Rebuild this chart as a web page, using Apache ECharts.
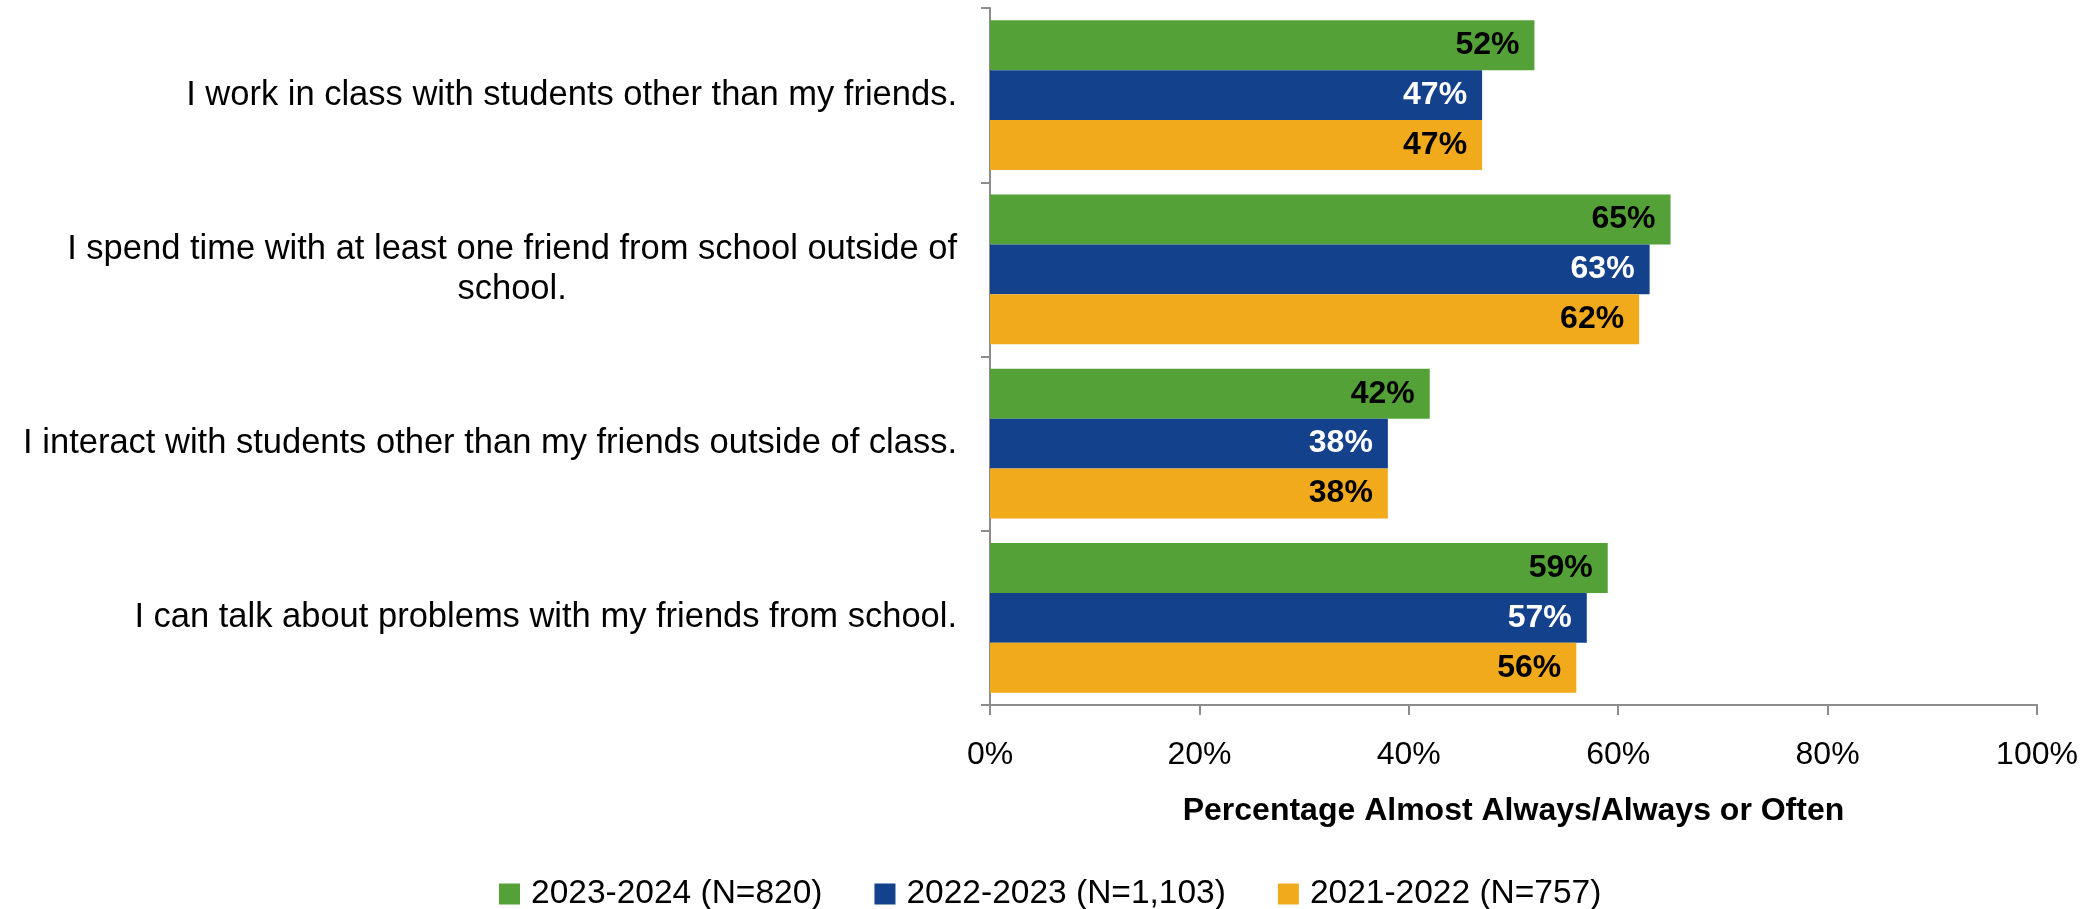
<!DOCTYPE html>
<html>
<head>
<meta charset="utf-8">
<script src="https://cdn.jsdelivr.net/npm/echarts@6/dist/echarts.min.js"></script>
<style>
  html, body { margin: 0; padding: 0; background: #fff; }
  #main { width: 2097px; height: 909px; }
</style>
</head>
<body>
<div id="main"></div>
<script>
var myChart = echarts.init(document.getElementById('main'));

var categories = [
  'I work in class with students other than my friends.',
  'I spend time with at least one friend from school outside of\nschool.',
  'I interact with students other than my friends outside of class.',
  'I can talk about problems with my friends from school.'
];
var seriesNames = ['2023-2024 (N=820)', '2022-2023 (N=1,103)', '2021-2022 (N=757)'];
var values2324 = [52, 65, 42, 59];
var values2223 = [47, 63, 38, 57];
var values2122 = [47, 62, 38, 56];
var xTicks = [0, 20, 40, 60, 80, 100];

var colors = ['#53A137', '#14418B', '#F0AA1C'];
var labelColors = ['#000', '#fff', '#000'];
var font = '"Liberation Sans", Arial, sans-serif';

function makeSeries(name, data, i) {
  return {
    name: name,
    type: 'bar',
    data: data,
    barGap: '0%',
    barCategoryGap: '14%',
    itemStyle: { color: colors[i] },
    label: {
      show: true,
      position: 'insideRight',
      distance: 15,
      formatter: '{c}%',
      color: labelColors[i],
      fontWeight: 'bold',
      fontSize: 32,
      fontFamily: font
    }
  };
}

var option = {
  animation: false,
  textStyle: { fontFamily: font },
  grid: { left: 990, right: 60, top: 8, bottom: 204 },
  legend: {
    top: 877,
    left: 499,
    padding: 0,
    itemWidth: 21,
    itemHeight: 21,
    itemGap: 52,
    icon: 'rect',
    textStyle: { fontSize: 33.5, color: '#000', fontFamily: font, padding: [0, 0, 0, 6] },
    data: seriesNames
  },
  xAxis: {
    type: 'value',
    min: xTicks[0],
    max: xTicks[xTicks.length - 1],
    interval: 20,
    name: 'Percentage Almost Always/Always or Often',
    nameLocation: 'middle',
    nameGap: 90,
    nameTextStyle: { fontSize: 32, fontWeight: 'bold', color: '#000', fontFamily: font },
    axisLine: { show: true, lineStyle: { color: '#8c8c8c', width: 2 } },
    axisTick: { show: true, length: 10, lineStyle: { color: '#8c8c8c', width: 2 } },
    axisLabel: { formatter: '{value}%', fontSize: 32, color: '#000', margin: 34, fontFamily: font },
    splitLine: { show: false }
  },
  yAxis: {
    type: 'category',
    inverse: true,
    data: categories,
    axisLine: { show: true, lineStyle: { color: '#8c8c8c', width: 2 } },
    axisTick: { show: true, length: 9, lineStyle: { color: '#8c8c8c', width: 2 } },
    axisLabel: {
      margin: 33,
      align: 'right',
      formatter: function (v) {
        return v.split('\n').map(function (l) { return '{c|' + l + '}'; }).join('\n');
      },
      rich: {
        c: { fontSize: 34.5, color: '#000', align: 'center', lineHeight: 40, fontFamily: font }
      }
    }
  },
  series: [
    makeSeries(seriesNames[0], values2324, 0),
    makeSeries(seriesNames[1], values2223, 1),
    makeSeries(seriesNames[2], values2122, 2)
  ]
};
myChart.setOption(option);
</script>
</body>
</html>
